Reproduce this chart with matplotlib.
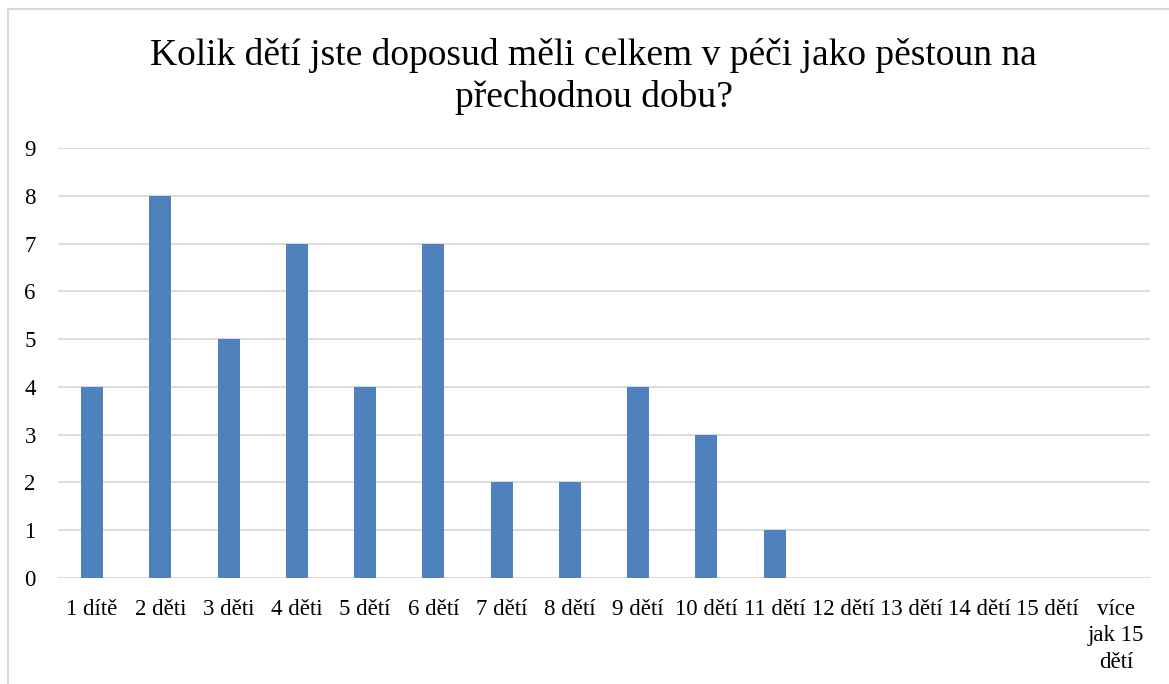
import matplotlib.pyplot as plt
import matplotlib.patches as mpatches

# data
categories = ["1 dítě", "2 děti", "3 děti", "4 děti", "5 dětí", "6 dětí", "7 dětí",
              "8 dětí", "9 dětí", "10 dětí", "11 dětí", "12 dětí", "13 dětí",
              "14 dětí", "15 dětí", "více\njak 15\ndětí"]
counts = [4, 8, 5, 7, 4, 7, 2, 2, 4, 3, 1, 0, 0, 0, 0, 0]
title = "Kolik dětí jste doposud měli celkem v péči jako pěstoun na\npřechodnou dobu?"

plt.rcParams['font.family'] = ['Liberation Serif', 'DejaVu Serif']

fig = plt.figure(figsize=(11.69, 6.84), dpi=100)
ax = fig.add_axes([58 / 1169, 1 - 578 / 684, 1092 / 1169, 430 / 684])

x = list(range(len(categories)))
ax.bar(x, counts, width=0.32, color='#4F81BD', zorder=3)

ax.set_xlim(-0.5, len(categories) - 0.5)
ax.set_ylim(0, 9)
ax.set_yticks(range(10))
ax.set_xticks(x)
ax.set_xticklabels(categories, fontsize=16.5, linespacing=1.35, va='top', ha='center')
ax.tick_params(axis='y', labelsize=16.5, length=0, pad=16)
ax.tick_params(axis='x', length=0, pad=15)
ax.yaxis.grid(True, color='#D9D9D9', linewidth=1.3, zorder=0)
for s in ax.spines.values():
    s.set_visible(False)

fig.text(0.508, 1 - 38 / 684, title, ha='center', va='top', fontsize=27, linespacing=1.25)

# chart area border
border = mpatches.Rectangle((8 / 1169, -0.05), 1.2, 1 - 9 / 684 + 0.05,
                            transform=fig.transFigure, fill=False,
                            edgecolor='#D9D9D9', linewidth=1.5)
fig.patches.append(border)

fig.savefig("out.png", dpi=100)
